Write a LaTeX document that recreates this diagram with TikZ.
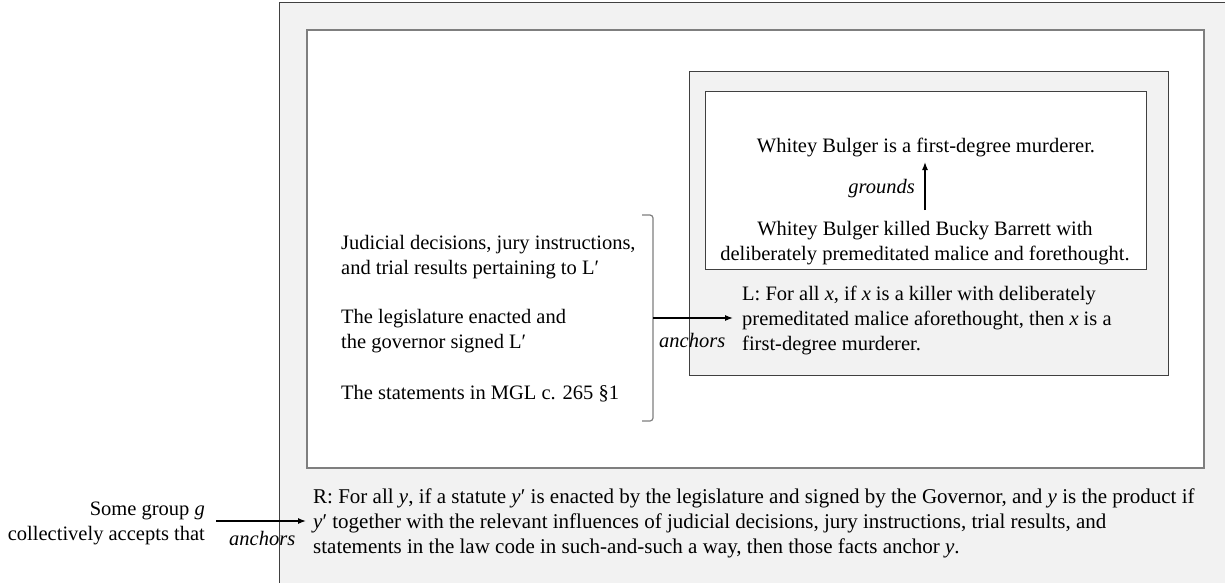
\documentclass[tikz,border=0pt]{standalone}
\usepackage{fontspec}
\setmainfont{Liberation Serif}
\usetikzlibrary{arrows.meta}
\definecolor{panelgray}{HTML}{F2F2F2}
\definecolor{edgedark}{HTML}{404040}
\definecolor{edgemid}{HTML}{7F7F7F}
\tikzset{
  body/.style={inner sep=0pt, font=\fontsize{20.5}{24.8}\selectfont},
  rule/.style={inner sep=0pt, font=\fontsize{21}{25}\selectfont},
  relabel/.style={inner sep=0pt, font=\fontsize{20.5}{24.8}\selectfont\itshape},
  link/.style={-{Latex[length=8pt,width=6pt]}, line width=1.3pt, black},
}
\begin{document}
\begin{tikzpicture}[x=1pt,y=-1pt]
\useasboundingbox (0,0) rectangle (1225,583);
% outer panel (runs off the right and bottom edges)
\fill[panelgray] (279,3) rectangle (1225,583);
\draw[edgedark, line width=1pt] (1225,3) -- (279,3) -- (279,583);
% white frame
\draw[edgemid, line width=1.3pt, fill=white] (307,30) rectangle (1204,468);
% L panel
\draw[edgedark, line width=1pt, fill=panelgray] (689,72) rectangle (1168,375);
% grounding box
\draw[edgedark, line width=1pt, fill=white] (705,92) rectangle (1146,269);

% grounding relation (multi-line nodes are placed by their last baseline)
\node[body, anchor=base] (top) at (926,152) {Whitey Bulger is a first-degree murderer.};
\node[body, anchor=base, align=center] (kill) at (925,260)
  {Whitey Bulger killed Bucky Barrett with\\deliberately premeditated malice and forethought.};
\coordinate (gfrom) at (925,210);
\coordinate (gto) at (925,162);
\draw[link] (gfrom) -- (gto);
\node[relabel, anchor=base east] (grounds) at (915,193) {grounds};

% the law L
\node[body, anchor=base west, align=left] (law) at (742,350)
  {L: For all \textit{x}, if \textit{x} is a killer with deliberately\\
   premeditated malice aforethought, then \textit{x} is a\\
   first-degree murderer.};

% anchoring facts
\node[body, anchor=base west, align=left] (judicial) at (341,274)
  {Judicial decisions, jury instructions,\\and trial results pertaining to L′};
\node[body, anchor=base west, align=left] (enact) at (341,348)
  {The legislature enacted and\\the governor signed L′};
\node[body, anchor=base west] (mgl) at (341,399) {The statements in MGL c. 265 §1};

% bracket gathering the facts
\draw[edgemid, line width=1.2pt, rounded corners=3pt]
  (642,215) -- (653,215) -- (653,421) -- (642,421);
\coordinate (brace) at (653,318);
\coordinate (lawin) at (733,318);
\draw[link] (brace) -- (lawin);
\node[relabel, anchor=base west] (anch1) at (659,347) {anchors};

% frame rule R
\node[rule, anchor=base west, align=left] (rule) at (313,553)
  {R: For all \textit{y}, if a statute \textit{y}′ is enacted by the legislature and signed by the Governor, and \textit{y} is the product if\\
   \textit{y}′ together with the relevant influences of judicial decisions, jury instructions, trial results, and\\
   statements in the law code in such-and-such a way, then those facts anchor \textit{y}.};

% the group
\node[body, anchor=base east, align=right] (group) at (205,540)
  {Some group \textit{g}\\collectively accepts that};
\coordinate (gstart) at (216,521);
\coordinate (gend) at (306,521);
\draw[link] (gstart) -- (gend);
\node[relabel, anchor=base west] (anch2) at (229,545) {anchors};
\end{tikzpicture}
\end{document}
